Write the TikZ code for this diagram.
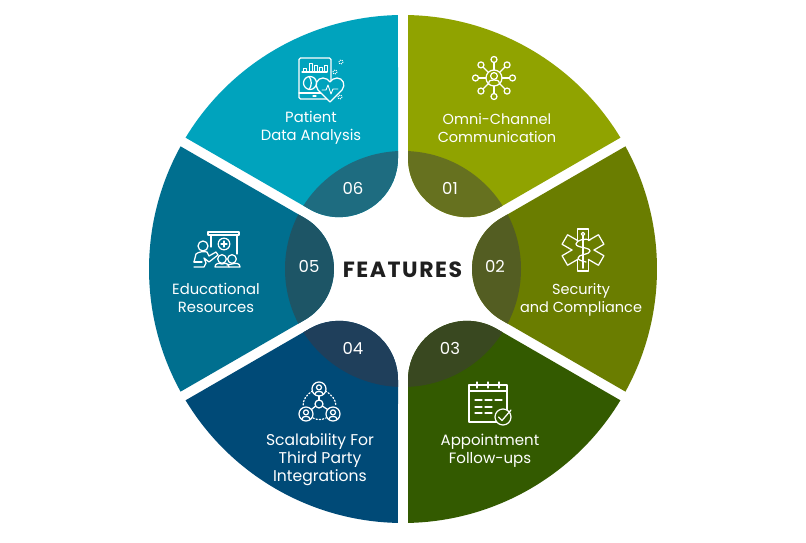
\documentclass[tikz,border=0pt]{standalone}
\usepackage{fontspec}
\usetikzlibrary{calc}
\setmainfont{Poppins}
\newfontfamily\ttlfont[LetterSpace=7]{Poppins}
\newcommand\wedgepath{(28.87:254) arc[start angle=28.87,end angle=-28.87,radius=254] -- (98.5,-51.1) arc[start angle=240,end angle=120,radius=59] -- cycle}
\definecolor{sa}{HTML}{90A300}\definecolor{da}{HTML}{66711F}
\definecolor{sb}{HTML}{6A7D00}\definecolor{db}{HTML}{535D22}
\definecolor{sc}{HTML}{335A00}\definecolor{dc}{HTML}{394820}
\definecolor{sd}{HTML}{004A77}\definecolor{dd}{HTML}{1F3F5B}
\definecolor{se}{HTML}{006F8F}\definecolor{de}{HTML}{1D5566}
\definecolor{sf}{HTML}{00A3BD}\definecolor{df}{HTML}{1E6C80}
\tikzset{
  lab/.style={text=white,align=center,inner sep=0pt,font=\fontsize{#1}{18}\selectfont},
  lab/.default=14.5,
  num/.style={text=white,inner sep=0pt,font=\fontsize{16.5}{18}\selectfont},
  ttl/.style={text=black!88,inner sep=0pt,font=\ttlfont\fontsize{22}{24}\selectfont\bfseries},
  ico/.style={draw=white,line width=1.25pt,line join=round,line cap=round},
  px/.style={shift={(0,543)},yscale=-1},
}
\begin{document}
\begin{tikzpicture}[x=1pt,y=1pt]
\useasboundingbox (0,0) rectangle (806,543);
\fill[white] (0,0) rectangle (806,543);
\foreach \ang/\sc/\dc in {60/sa/da,0/sb/db,-60/sc/dc,-120/sd/dd,180/se/de,120/sf/df}{
  \begin{scope}[shift={(403,274)},rotate=\ang]
    \fill[\sc] \wedgepath;
    \begin{scope}
      \clip \wedgepath;
      \fill[\dc] (0,0) circle[radius=118];
    \end{scope}
  \end{scope}
}
% texts
\node[ttl] (t0) at (402.5,273) {FEATURES};
\node[lab] (t1) at (497,415) {Omni-Channel\\Communication};
\node[lab] (t2) at (581,243) {Security\\and Compliance};
\node[lab=15] (t3) at (490,92) {Appointment\\Follow-ups};
\node[lab=15.6] (t4) at (320,83) {Scalability For\\Third Party\\Integrations};
\node[lab=14.8] (t5) at (216,245) {Educational\\Resources};
\node[lab=14.8] (t6) at (311,415) {Patient\\Data Analysis};
\node[num] (n1) at (450,355) {01};
\node[num] (n2) at (495,277) {02};
\node[num] (n3) at (450,195) {03};
\node[num] (n4) at (353,195) {04};
\node[num] (n5) at (309,277) {05};
\node[num] (n6) at (353,355) {06};
% icon 01
\begin{scope}[px,ico]
  \draw (494,78) circle[radius=8];
  \draw (494,76) circle[radius=3.4];
  \draw (488.5,84) .. controls (489,80) and (491,80) .. (494,80) .. controls (497,80) and (499,80) .. (499.5,84);
  \foreach \a in {0,45,...,315}{
    \draw ($(494,78)+(\a:8)$) -- ($(494,78)+(\a:15.5)$);
    \draw ($(494,78)+(\a:18.5)$) circle[radius=3];
  }
\end{scope}
% icon 02
\begin{scope}[ico]
  \foreach \a in {0,60,...,300}{
    \begin{scope}[shift={(583,293)},rotate=\a]
      \draw (-5.5,9.5) -- (-5.5,21) -- (5.5,21) -- (5.5,9.5);
    \end{scope}
  }
\end{scope}
\begin{scope}[px,ico]
  \draw[line width=1.8pt] (583,236) -- (583,268);
  \draw (583,234) circle[radius=1.8];
  \draw (590,240) .. controls (586,238) and (576,240) .. (576,244) .. controls (576,248) and (590,247) .. (590,251) .. controls (590,255) and (578,254) .. (578,258) .. controls (578,260) and (582,261) .. (586,262);
\end{scope}
% icon 03
\begin{scope}[px,ico]
  \draw (469,385) rectangle (507,422);
  \draw (469,391) -- (507,391);
  \foreach \x in {477,488,499} \draw (\x,382) -- (\x,388);
  \foreach \y in {400,407,413}{
    \draw[line width=1.3pt] (475,\y) -- (482,\y);
    \draw[line width=1.3pt] (485,\y) -- (492,\y);
  }
  \draw[line width=1.3pt] (495,400) -- (502,400);
  \fill[sc] (503,417) circle[radius=8];
  \draw (503,417) circle[radius=8];
  \draw (498.5,417) -- (502,420.5) -- (511,410);
\end{scope}
% icon 04
\begin{scope}[px,ico]
  \foreach \x/\y in {319/389,306/414,333/414}{
    \draw (\x,\y) circle[radius=7];
    \draw (\x,\y-1.6) circle[radius=2.5];
    \draw (\x-4,\y+5) .. controls (\x-4,\y+1.5) and (\x+4,\y+1.5) .. (\x+4,\y+5);
  }
  \draw (319,404) circle[radius=4];
  \draw (319,396) -- (319,400);
  \draw (315.6,406) -- (311.5,409.5);
  \draw (322.4,406) -- (327.5,409.5);
  \draw[dotted,line cap=round] (312.5,391) .. controls (306,395) and (303,400) .. (303,406);
  \draw[dotted,line cap=round] (325.5,391) .. controls (332,395) and (336,400) .. (336,406);
  \draw[dotted,line cap=round] (313,418) .. controls (317,420) and (322,420) .. (326,418);
\end{scope}
% icon 05
\begin{scope}[px,ico]
  \draw (208,232) rectangle (239,235);
  \draw (211,235) -- (211,247);
  \draw (237,235) -- (237,254);
  \draw (224,244) circle[radius=5.8];
  \draw (221,244) -- (227,244) (224,241) -- (224,247);
  \draw (203,246) circle[radius=5];
  \draw (194,262) -- (196,254) .. controls (198,252) and (204,251) .. (207,252) -- (209,256) -- (216,252) -- (218,255) -- (209,262) -- (204,258) -- (206,263) -- (204,267) -- (194,267);
  \draw (194,262) -- (202,262);
  \draw[fill=se] (222,259) circle[radius=4.3];
  \draw[fill=se] (232,259) circle[radius=4.3];
  \draw (215,267) .. controls (215,263) and (219,263) .. (222,264) .. controls (225,263) and (229,263) .. (229,267) -- cycle;
  \draw (229,267) -- (240,267) .. controls (240,263) and (236,263) .. (232,264) .. controls (230,264) and (228,265) .. (227,265);
\end{scope}
% icon 06
\begin{scope}[px,ico]
  \draw[rounded corners=1.5pt] (299,58) rectangle (331,99);
  \draw (299,93) -- (331,93);
  \draw (313,96) -- (316,96);
  \draw (302,72) -- (327,72);
  \foreach \x/\h in {303/4,309/9,314/7,319/5,324/7}
    \draw[line width=0.9pt] (\x,72) -- (\x,72-\h) -- (\x+3,72-\h) -- (\x+3,72);
  \draw (310,83) circle[radius=6.5];
  \draw (309,76.5) .. controls (312,80) and (312,86) .. (309,89.5);
  \draw[fill=sf] (330,102) -- (318,90) .. controls (314,85) and (317,78) .. (323,78) .. controls (326,78) and (329,80) .. (330,82) .. controls (331,80) and (334,78) .. (337,78) .. controls (343,78) and (346,85) .. (342,90) -- cycle;
  \draw[line width=.9pt] (322,90) -- (326,90) -- (328,85) -- (331,94) -- (333,89) -- (338,89);
\end{scope}
\begin{scope}[px]
  \foreach \x/\y in {341/62,335/72,340/97}
    \draw[white,densely dotted,line width=1pt] (\x,\y) circle[radius=2];
\end{scope}
\end{tikzpicture}
\end{document}
